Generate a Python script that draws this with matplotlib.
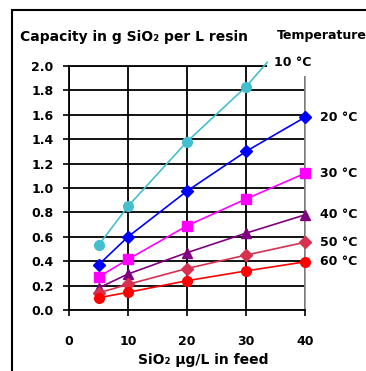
import matplotlib
matplotlib.use("Agg")
import matplotlib.pyplot as plt
from matplotlib.patches import Rectangle

plt.rcParams['font.family'] = ['DejaVu Sans']
plt.rcParams['font.weight'] = 'bold'

feed = [5, 10, 20, 30, 40]
temps = ["10 °C", "20 °C", "30 °C", "40 °C", "50 °C", "60 °C"]
cap_10 = [0.53, 0.85, 1.38, 1.83]
cap_20 = [0.37, 0.60, 0.975, 1.30, 1.58]
cap_30 = [0.27, 0.415, 0.69, 0.91, 1.12]
cap_40 = [0.18, 0.295, 0.47, 0.63, 0.78]
cap_50 = [0.14, 0.21, 0.34, 0.45, 0.555]
cap_60 = [0.10, 0.145, 0.24, 0.32, 0.395]
leader_10_x = [30, 33.6]
leader_10_y = [1.83, 2.03]
x_ticks = [0, 10, 20, 30, 40]
y_ticks = [0.0, 0.2, 0.4, 0.6, 0.8, 1.0, 1.2, 1.4, 1.6, 1.8, 2.0]

series = [cap_10, cap_20, cap_30, cap_40, cap_50, cap_60]
colors = ['#45BFCF', '#0000FF', '#FF00FF', '#800080', '#D8304F', '#FF0000']
markers = ['o', 'D', 's', '^', 'D', 'o']
msizes = [7, 6, 7, 7, 6, 7]

fig = plt.figure(figsize=(3.66, 3.71), dpi=100)
ax = fig.add_axes([69/366, 1-310/371, (305-69)/366, (310-66)/371])
ax.set_xlim(0, 40)
ax.set_ylim(0, 2.0)
ax.set_xticks(x_ticks)
ax.set_yticks(y_ticks)
ax.set_xticklabels([str(t) for t in x_ticks], fontsize=9, fontweight='bold')
ax.set_yticklabels([f"{t:.1f}" for t in y_ticks], fontsize=9, fontweight='bold')
ax.tick_params(axis='y', length=4, width=1.2, pad=7, color='black')
ax.tick_params(axis='x', length=4, width=1.2, pad=14, color='black')
ax.grid(True, color='black', linewidth=1.3, zorder=1)
ax.set_axisbelow(True)
for s in ['left', 'bottom', 'top']:
    ax.spines[s].set_linewidth(1.3)
    ax.spines[s].set_color('black')
ax.spines['right'].set_color('#909090')
ax.spines['right'].set_linewidth(1.2)

for i, (vals, c, m, ms) in enumerate(zip(series, colors, markers, msizes)):
    xs = feed[:len(vals)]
    ax.plot(xs, vals, color=c, marker=m, markersize=ms, linewidth=1.2,
            clip_on=False, zorder=3 + i)
    if i > 0:
        ax.annotate(temps[i], (xs[-1], vals[-1]), xytext=(11, 0),
                    textcoords='offset points', va='center', ha='left',
                    fontsize=9, fontweight='bold', annotation_clip=False)

ax.annotate(temps[0], (leader_10_x[-1], leader_10_y[-1]), xytext=(5, 0),
            textcoords='offset points', va='center', ha='left',
            fontsize=9, fontweight='bold', annotation_clip=False, zorder=10,
            bbox=dict(boxstyle='square,pad=0.55', fc='white', ec='none'))
ax.plot(leader_10_x, leader_10_y, color=colors[0], linewidth=1.2,
        clip_on=False, zorder=11)

fig.text(20/366, 1-37/371, "Capacity in g SiO₂ per L resin", fontsize=10,
         fontweight='bold', va='center', ha='left')
fig.text(277/366, 1-35/371, "Temperature", fontsize=9,
         fontweight='bold', va='center', ha='left')
fig.text(203/366, 1-360/371, "SiO₂ µg/L in feed", fontsize=10,
         fontweight='bold', va='center', ha='center')

fig.patches.append(Rectangle((12/366, -0.1), 1.2, 1.1 - 10/371,
                             transform=fig.transFigure, fill=False,
                             edgecolor='black', linewidth=1.5))

fig.savefig("out.png", dpi=100)
